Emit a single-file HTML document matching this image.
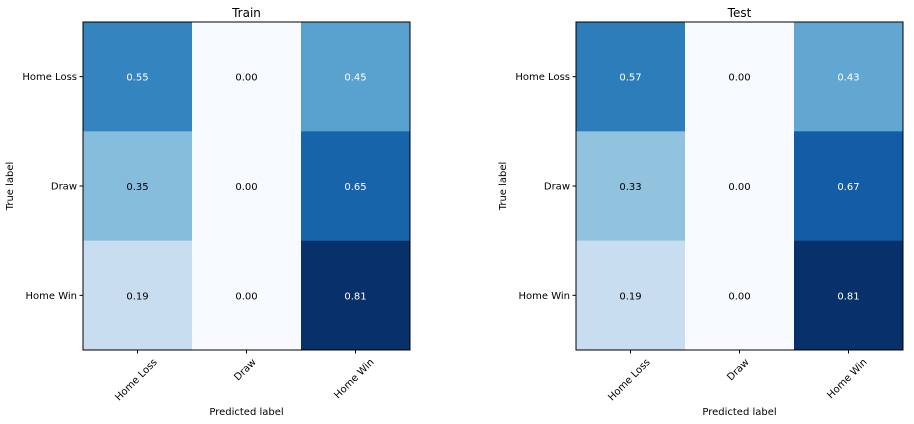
<!DOCTYPE html>
<html><head><meta charset="utf-8"><style>
body{margin:0;background:#fff;}
svg{display:block;font-family:"DejaVu Sans","Liberation Sans",sans-serif;}
</style></head><body>
<svg id="c" width="914" height="424"></svg>
<script>
const classes = ["Home Loss","Draw","Home Win"];
const trainValues = [[0.55,0.00,0.45],[0.35,0.00,0.65],[0.19,0.00,0.81]];
const testValues = [[0.57,0.00,0.43],[0.33,0.00,0.67],[0.19,0.00,0.81]];
const titles = ["Train","Test"];

const NS="http://www.w3.org/2000/svg";
const svg=document.getElementById('c');
const stops=["#f7fbff","#deebf7","#c6dbef","#9ecae1","#6baed6","#4292c6","#2171b5","#08519c","#08306b"];
function hx(c){return [1,3,5].map(i=>parseInt(c.substr(i,2),16));}
function blues(t){t=Math.max(0,Math.min(1,t));const p=t*8,i=Math.min(7,Math.floor(p)),f=p-i;const a=hx(stops[i]),b=hx(stops[i+1]);return "rgb("+a.map((v,k)=>Math.round(v+(b[k]-v)*f)).join(",")+")";}
function el(tag,attrs,parent){const e=document.createElementNS(NS,tag);for(const k in attrs)e.setAttribute(k,attrs[k]);(parent||svg).appendChild(e);return e;}

function panel(values,title,x0,name){
  const y0=22,w=327,h=328,n=classes.length,cw=w/n,ch=h/n;
  const g=el('g',{});
  
  
  let mx=0,mn=1e9;values.forEach(r=>r.forEach(v=>{mx=Math.max(mx,v);mn=Math.min(mn,v);}));
  const thresh=mx/2;
  values.forEach((row,i)=>row.forEach((v,j)=>{
    const r=el('rect',{x:x0+j*cw,y:y0+i*ch,width:cw+0.5,height:ch+0.5,fill:blues((v-mn)/(mx-mn))},g);
    
    
    const t=el('text',{x:x0+j*cw+cw/2,y:y0+i*ch+ch/2+4,'text-anchor':'middle','font-size':10,fill:v>thresh?'#fff':'#000'},g);
    t.textContent=v.toFixed(2);
    
    
  }));
  const f=el('rect',{x:x0,y:y0,width:w,height:h,fill:'none',stroke:'#000','stroke-width':1},g);
  
  
  const tt=el('text',{x:x0+w/2,y:y0-5,'text-anchor':'middle','font-size':12},g);
  tt.textContent=title;
  
  
  classes.forEach((c,k)=>{
    const yc=y0+k*ch+ch/2;
    el('line',{x1:x0-3.5,x2:x0,y1:yc,y2:yc,stroke:'#000'},g);
    const yl=el('text',{x:x0-6,y:yc+3.5,'text-anchor':'end','font-size':10},g);
    yl.textContent=c;
    
    
    const xc=x0+k*cw+cw/2;
    el('line',{x1:xc,x2:xc,y1:y0+h,y2:y0+h+3.5,stroke:'#000'},g);
    const xl=el('text',{x:0,y:0,'text-anchor':'middle','dominant-baseline':'central','font-size':10},g);
    xl.textContent=c;
    
    
    const L=xl.getComputedTextLength();
    const half=(L*0.7071+11*0.7071)/2;
    const cy=y0+h+7+half;
    xl.setAttribute('transform','translate('+(xc-1)+' '+cy+') rotate(-45)');
  });
  const xa=el('text',{x:x0+w/2,y:415,'text-anchor':'middle','font-size':10},g);
  xa.textContent='Predicted label';
  
  
  const ya=el('text',{x:0,y:0,'text-anchor':'middle','font-size':10,transform:'translate('+(x0-70)+' '+(y0+h/2)+') rotate(-90)'},g);
  ya.textContent='True label';
  
  
}
panel(trainValues,titles[0],83,'train-matrix');
panel(testValues,titles[1],576,'test-matrix');
</script>
</body></html>
